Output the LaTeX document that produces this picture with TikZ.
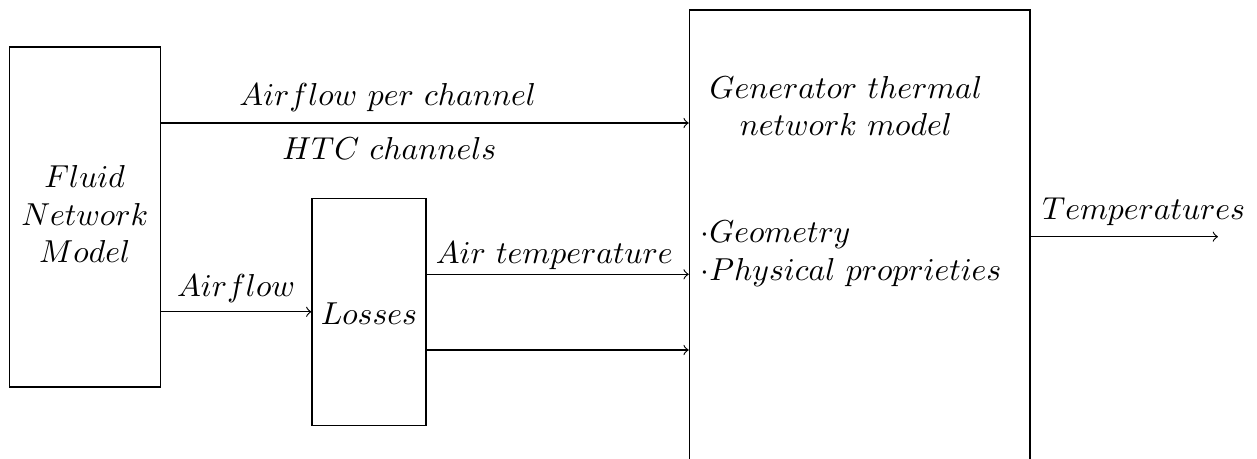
\documentclass[tikz,border=0pt]{standalone}
\begin{document}
\def\u{0.345pt}
\begin{tikzpicture}[x=0.345pt,y=-0.345pt,
  box/.style={draw,inner sep=0pt,line width=0.4pt},
  txt/.style={inner sep=0pt,font={\fontsize{10.9}{13.1}\selectfont}},
  arr/.style={->,line width=0.4pt}]
\useasboundingbox (0,0) rectangle (1257,459);
\node[box,minimum width={151*\u},minimum height={340*\u}] (fluid) at (84.7,217) {};
\node[box,minimum width={114*\u},minimum height={227*\u}] (loss) at (369,311.8) {};
\node[box,minimum width={340.7*\u},minimum height={453.4*\u}] (gen) at (859.7,236.7) {};
\node[txt,align=center] (fluidt) at (84.7,214) {$Fluid$\\$Network$\\$Model$};
\node[txt] (losst) at (369,314) {$Losses$};
\node[txt,align=center] (gent) at (846,106) {$Generator\ thermal$\\$network\ model$};
\node[txt,align=left,anchor=west] (props) at (700,254) {$\cdot Geometry$\\$\cdot Physical\ proprieties$};
\coordinate (r1) at (0,123);
\coordinate (r2) at (0,274.3);
\coordinate (r3) at (0,350);
\coordinate (tend) at (1218,236.7);
\draw[arr] (fluid.east |- r1) -- node[txt,pos=0.43,yshift={25*\u}] (l1) {$Airflow\ per\ channel$} node[txt,pos=0.433,yshift={-25*\u}] (l2) {$HTC\ channels$} (gen.west |- r1);
\draw[arr] (fluid.east |- loss.west) -- node[txt,yshift={23*\u}] (l3) {$Airflow$} (loss.west);
\draw[arr] (loss.east |- r2) -- node[txt,pos=0.487,yshift={19*\u}] (l4) {$Air\ temperature$} (gen.west |- r2);
\draw[arr] (loss.east |- r3) -- (gen.west |- r3);
\draw[arr] (gen.east) -- node[txt,pos=0.604,yshift={25*\u}] (l5) {$Temperatures$} (tend);
\end{tikzpicture}
\end{document}
